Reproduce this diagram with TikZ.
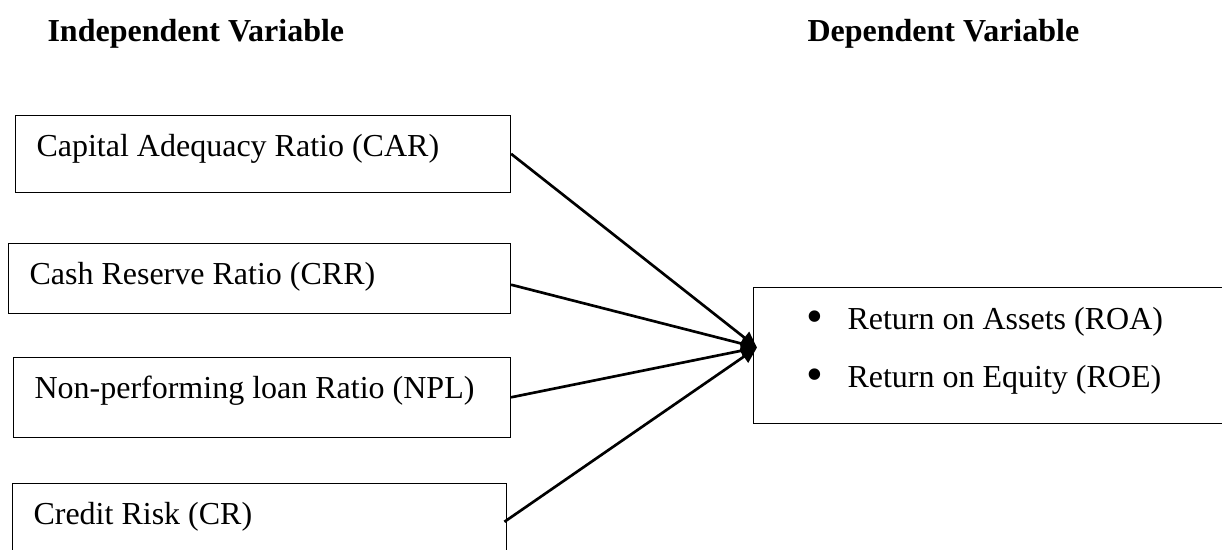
\documentclass[tikz,border=0pt]{standalone}
\usepackage{fontspec}
\setmainfont{Liberation Serif}
\usetikzlibrary{arrows.meta,positioning}
\newcommand\natspace{\spaceskip 0pt\xspaceskip 0pt\relax}

\begin{document}
\begin{tikzpicture}
[x=0.375pt,y=-0.375pt,font=\fontsize{12}{14.4}\selectfont,
 head/.style={anchor=base west,inner sep=0pt,font=\fontsize{12}{14.4}\selectfont\bfseries},
 varbox/.style 2 args={draw,thin,anchor=north west,align=left,inner xsep=7.875pt,inner ysep=0pt,text height=15.2pt,text depth=#1,text width=#2},
 link/.style={line width=1pt,-{Triangle[length=6pt,width=5.5pt]}}]
\useasboundingbox (0,0) rectangle (1222,549);

\node[head] (indep) at (47,41) {Independent Variable};
\node[head] (dep) at (807,41) {Dependent Variable};

\node[varbox={13.5pt}{169.875pt}] (car) at (15,115) {\natspace Capital Adequacy Ratio (CAR)};
\node[varbox={10.875pt}{172.5pt}] (crr) at (8,243) {\natspace Cash Reserve Ratio (CRR)};
\node[varbox={14.625pt}{170.625pt}] (npl) at (13,357) {\natspace Non-performing loan Ratio (NPL)};
\node[varbox={13.5pt}{169.5pt}] (cr) at (12,483) {\natspace Credit Risk (CR)};

\node[draw,thin,anchor=north west,align=left,inner xsep=19.875pt,inner ysep=0pt,
      text height=15.75pt,text depth=35.25pt,text width=150pt] (perf) at (753,287)
  {\natspace\makebox[15.375pt][l]{\raisebox{-1.2pt}{\fontsize{18}{18}\selectfont\textbullet}}Return on Assets (ROA)\\[7.35pt]
   \makebox[15.375pt][l]{\raisebox{-1.2pt}{\fontsize{18}{18}\selectfont\textbullet}}Return on Equity (ROE)};

\draw [link] (car.east) -- ([xshift=1.5pt,yshift=3pt]perf.west);
\draw [link] ([yshift=-2.4pt]crr.east) -- ([xshift=1.5pt,yshift=3pt]perf.west);
\draw [link] (npl.east) -- ([xshift=1.5pt,yshift=3pt]perf.west);
\draw [link] ([xshift=-1pt]cr.east) -- ([xshift=1.5pt,yshift=3pt]perf.west);
\end{tikzpicture}
\end{document}
